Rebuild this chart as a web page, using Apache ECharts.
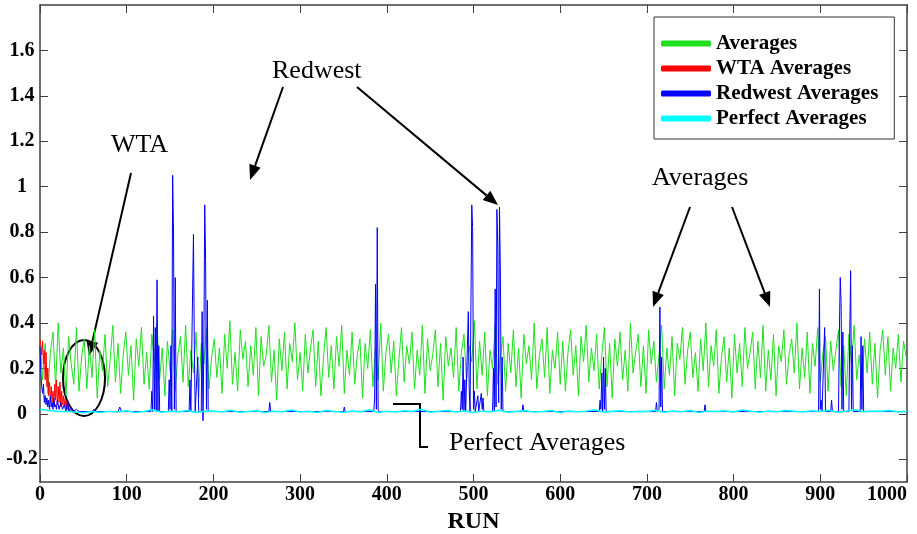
<!DOCTYPE html>
<html>
<head>
<meta charset="utf-8">
<script src="https://cdn.jsdelivr.net/npm/echarts@6/dist/echarts.min.js"></script>
<style>
  html, body { margin: 0; padding: 0; background: #fff; }
  #chart { width: 917px; height: 534px; }
</style>
</head>
<body>
<div id="chart"></div>
<script>
// Averages (green), sampled every 3 runs
const averagesStep = 3
const averages = [
  0.33, 0.15, 0.31, 0.09, 0.27, 0.36, 0.12, 0.40, 0.18, 0.29,
  0.08, 0.34, 0.22, 0.13, 0.38, 0.10, 0.25, 0.33, 0.11, 0.30,
  0.16, 0.37, 0.07, 0.28, 0.19, 0.35, 0.12, 0.24, 0.39, 0.14,
  0.31, 0.09, 0.26, 0.36, 0.17, 0.30, 0.06, 0.33, 0.21, 0.38,
  0.13, 0.27, 0.11, 0.35, 0.23, 0.40, 0.15, 0.29, 0.08, 0.32,
  0.19, 0.37, 0.10, 0.26, 0.34, 0.14, 0.39, 0.12, 0.28, 0.18,
  0.36, 0.07, 0.31, 0.22, 0.38, 0.11, 0.25, 0.33, 0.16, 0.29,
  0.09, 0.35, 0.20, 0.41, 0.13, 0.27, 0.10, 0.37, 0.24, 0.32,
  0.12, 0.30, 0.17, 0.38, 0.08, 0.34, 0.21, 0.26, 0.39, 0.14,
  0.28, 0.06, 0.33, 0.19, 0.36, 0.11, 0.31, 0.23, 0.40, 0.15,
  0.27, 0.10, 0.35, 0.18, 0.29, 0.37, 0.12, 0.32, 0.08, 0.25,
  0.38, 0.16, 0.30, 0.11, 0.34, 0.21, 0.39, 0.09, 0.28, 0.17,
  0.36, 0.13, 0.26, 0.33, 0.07, 0.31, 0.20, 0.37, 0.12, 0.29,
  0.15, 0.40, 0.10, 0.27, 0.35, 0.18, 0.32, 0.08, 0.24, 0.38,
  0.14, 0.30, 0.22, 0.36, 0.11, 0.28, 0.17, 0.39, 0.09, 0.33,
  0.19, 0.26, 0.37, 0.12, 0.31, 0.06, 0.34, 0.21, 0.29, 0.16,
  0.38, 0.10, 0.27, 0.35, 0.14, 0.30, 0.23, 0.41, 0.11, 0.32,
  0.17, 0.36, 0.08, 0.28, 0.20, 0.39, 0.13, 0.25, 0.34, 0.10,
  0.31, 0.18, 0.37, 0.12, 0.29, 0.07, 0.35, 0.22, 0.30, 0.15,
  0.40, 0.11, 0.26, 0.33, 0.16, 0.38, 0.09, 0.28, 0.20, 0.36,
  0.13, 0.32, 0.10, 0.27, 0.37, 0.17, 0.30, 0.08, 0.34, 0.23,
  0.39, 0.14, 0.29, 0.19, 0.35, 0.11, 0.26, 0.38, 0.12, 0.31,
  0.07, 0.33, 0.21, 0.36, 0.15, 0.28, 0.10, 0.40, 0.18, 0.27,
  0.35, 0.12, 0.30, 0.09, 0.37, 0.22, 0.32, 0.14, 0.26, 0.39,
  0.11, 0.29, 0.17, 0.34, 0.08, 0.31, 0.24, 0.38, 0.13, 0.28,
  0.36, 0.16, 0.27, 0.10, 0.33, 0.19, 0.40, 0.12, 0.30, 0.21,
  0.37, 0.09, 0.25, 0.34, 0.14, 0.29, 0.07, 0.35, 0.18, 0.31,
  0.12, 0.38, 0.20, 0.27, 0.36, 0.11, 0.32, 0.16, 0.39, 0.10,
  0.28, 0.15, 0.35, 0.08, 0.30, 0.23, 0.37, 0.13, 0.26, 0.33,
  0.18, 0.40, 0.11, 0.29, 0.16, 0.36, 0.09, 0.31, 0.21, 0.38,
  0.14, 0.27, 0.34, 0.10, 0.32, 0.19, 0.28, 0.37, 0.12, 0.30,
  0.08, 0.35, 0.22, 0.39, 0.15, 0.26, 0.11, 0.33, 0.18, 0.36,
  0.13, 0.31, 0.07, 0.28, 0.37, 0.17, 0.34, 0.10, 0.29, 0.20,
  0.35, 0.14, 0.32, 0.25
]

// WTA Averages (red), [run, value]
const wta = [
  [0, 0.33], [1, 0.30], [2, 0.26], [3, 0.32], [4, 0.22], [5, 0.28], [6, 0.15], [7, 0.27],
  [8, 0.12], [9, 0.20], [10, 0.08], [11, 0.14], [12, 0.06], [13, 0.12], [14, 0.05], [15, 0.10],
  [16, 0.04], [17, 0.13], [18, 0.06], [19, 0.15], [20, 0.04], [21, 0.12], [22, 0.05], [23, 0.14],
  [24, 0.03], [25, 0.10], [26, 0.04], [27, 0.08], [28, 0.03], [29, 0.07], [30, 0.02], [31, 0.06],
  [32, 0.02], [33, 0.04], [34, 0.01], [36, 0.02], [38, 0.005], [40, 0.005]
]

// Redwest Averages (blue), [run, value]
const redwest = [
  [0, 0.30], [1, 0.18], [2, 0.12], [3, 0.09], [4, 0.13], [5, 0.05], [6, 0.08], [7, 0.04],
  [8, 0.07], [9, 0.03], [10, 0.06], [11, 0.02], [12, 0.08], [13, 0.03], [14, 0.05], [15, 0.02],
  [16, 0.07], [17, 0.03], [18, 0.04], [19, 0.02], [20, 0.06], [22, 0.02], [24, 0.05], [26, 0.02],
  [28, 0.04], [30, 0.01], [32, 0.06], [33, 0.01], [36, 0.03], [38, 0.01], [42, 0.02], [45, 0.01],
  [60, 0.01], [62, 0.02], [64, 0.01], [90, 0.01], [92, 0.03], [94, 0.01], [128, 0.01],
  [129, 0.10], [130, 0.01], [131, 0.43], [132, 0.02], [133, 0.38], [134, 0.01], [135, 0.59],
  [136, 0.01], [137, 0.30], [138, 0.01],
  [148, 0.01], [149, 0.15], [150, 0.02], [151, 0.30], [152, 0.01], [153, 1.05], [154, 0.80],
  [155, 0.02], [156, 0.60], [157, 0.01], [159, 0.01],
  [172, 0.01], [173, 0.15], [174, 0.01], [176, 0.01], [177, 0.79], [178, 0.30], [179, 0.01],
  [181, 0.01], [182, 0.25], [183, 0.01],
  [186, 0.01], [187, 0.45], [188, -0.03], [189, 0.30], [190, 0.92], [191, 0.68], [192, 0.02],
  [193, 0.50], [194, 0.01],
  [264, 0.01], [265, 0.05], [266, 0.01], [350, 0.01], [351, 0.03], [352, 0.01],
  [385, 0.01], [386, 0.07], [387, 0.57], [388, 0.02], [389, 0.82], [390, 0.02], [391, 0.01],
  [485, 0.01], [486, 0.10], [487, 0.02], [488, 0.25], [489, 0.01], [490, 0.15], [491, 0.01],
  [493, 0.01], [494, 0.45], [495, 0.12], [496, 0.01], [497, 0.01], [498, 0.92], [499, 0.82],
  [500, 0.02], [501, 0.10], [502, 0.01], [504, 0.01], [505, 0.08], [506, 0.01], [508, 0.01],
  [509, 0.09], [510, 0.02], [511, 0.07], [512, 0.01],
  [522, 0.01], [523, 0.20], [524, 0.01], [525, 0.55], [526, 0.03], [527, 0.90], [528, 0.74],
  [529, 0.05], [530, 0.91], [531, 0.62], [532, 0.02], [533, 0.25], [534, 0.01],
  [556, 0.01], [557, 0.04], [558, 0.01],
  [645, 0.01], [646, 0.06], [647, 0.02], [648, 0.18], [649, 0.01], [650, 0.25], [651, 0.02],
  [652, 0.20], [653, 0.01],
  [710, 0.01], [711, 0.05], [712, 0.01], [714, 0.02], [715, 0.47], [716, 0.03], [717, 0.25],
  [718, 0.01], [766, 0.01], [767, 0.04], [768, 0.01],
  [898, 0.01], [899, 0.55], [900, 0.02], [901, 0.06], [902, 0.01], [904, 0.01], [905, 0.38],
  [906, 0.01], [912, 0.01], [913, 0.06], [914, 0.01],
  [921, 0.01], [922, 0.36], [923, 0.60], [924, 0.49], [925, 0.02], [926, 0.36], [927, 0.01],
  [933, 0.01], [934, 0.36], [935, 0.63], [936, 0.02], [937, 0.30], [938, 0.01],
  [946, 0.01], [947, 0.34], [948, 0.02], [949, 0.30], [950, 0.01], [1000, 0.01]
]

// Perfect Averages (cyan), sampled every 10 runs
const perfectStep = 10
const perfect = [
  0.020, 0.015, 0.010, 0.012, 0.008, 0.005, 0.010, 0.006, 0.012, 0.008,
  0.014, 0.006, 0.010, 0.018, 0.007, 0.012, 0.009, 0.015, 0.006, 0.011,
  0.013, 0.008, 0.016, 0.007, 0.010, 0.014, 0.006, 0.012, 0.009, 0.017,
  0.008, 0.011, 0.006, 0.015, 0.010, 0.007, 0.013, 0.009, 0.018, 0.006,
  0.012, 0.008, 0.014, 0.010, 0.020, 0.007, 0.011, 0.015, 0.008, 0.013,
  0.006, 0.012, 0.009, 0.016, 0.007, 0.011, 0.014, 0.008, 0.010, 0.015,
  0.006, 0.013, 0.009, 0.012, 0.018, 0.007, 0.011, 0.014, 0.008, 0.012,
  0.010, 0.016, 0.007, 0.013, 0.009, 0.015, 0.006, 0.012, 0.010, 0.014,
  0.008, 0.017, 0.011, 0.007, 0.013, 0.009, 0.015, 0.012, 0.008, 0.014,
  0.010, 0.016, 0.007, 0.012, 0.018, 0.009, 0.013, 0.011, 0.015, 0.008,
  0.012
]

const yTicks = [-0.2, 0, 0.2, 0.4, 0.6, 0.8, 1, 1.2, 1.4, 1.6]
const seriesNames = ['Averages', 'WTA Averages', 'Redwest Averages', 'Perfect Averages']
const seriesColors = ['#1ee01e', '#ff0000', '#0000ff', '#00ffff']

const serif = 'Liberation Serif'
const axisColor = '#404040'

// arrow annotation: shaft plus filled head
function arrow(x1, y1, x2, y2) {
  const ang = Math.atan2(y2 - y1, x2 - x1)
  const len = 15, half = 6
  const bx = x2 - len * Math.cos(ang), by = y2 - len * Math.sin(ang)
  const px = -Math.sin(ang) * half, py = Math.cos(ang) * half
  return [
    { type: 'line', shape: { x1: x1, y1: y1, x2: bx, y2: by }, style: { stroke: '#000', lineWidth: 2 } },
    { type: 'polygon', shape: { points: [[x2, y2], [bx + px, by + py], [bx - px, by - py]] }, style: { fill: '#000' } }
  ]
}

function label(text, x, y) {
  return { type: 'text', x: x, y: y, style: { text: text, font: '26px "' + serif + '"', fill: '#000', textVerticalAlign: 'middle' } }
}

const annotations = [].concat(
  label('Redwest', 272, 71),
  arrow(283, 87, 250, 180),
  arrow(357, 87, 498, 205),
  label('WTA', 111, 145),
  arrow(131, 173, 89, 356),
  { type: 'ellipse', shape: { cx: 84, cy: 378, rx: 21, ry: 38 }, style: { fill: 'none', stroke: '#000', lineWidth: 2 } },
  label('Averages', 652, 178),
  arrow(690, 207, 653, 307),
  arrow(732, 207, 770, 307),
  { type: 'polyline', shape: { points: [[393, 404], [420, 404], [420, 447], [428, 447]] }, style: { stroke: '#000', lineWidth: 2, fill: 'none' } },
  label('Perfect Averages', 449, 443)
)

const fmt = v => String(+(+v).toFixed(1))

const options = {
  animation: false,
  backgroundColor: '#fff',
  grid: { left: 40, right: 10, top: 5, bottom: 52, containLabel: false, outerBoundsMode: 'none' },
  legend: {
    orient: 'vertical',
    left: 654,
    top: 17,
    padding: [16, 16, 10, 7],
    itemGap: 4,
    itemWidth: 50,
    itemHeight: 6,
    icon: 'roundRect',
    borderColor: '#333',
    borderWidth: 1,
    backgroundColor: '#fff',
    data: seriesNames,
    textStyle: { fontFamily: serif, fontWeight: 'bold', fontSize: 21, lineHeight: 20, color: '#000' }
  },
  xAxis: [
    {
      type: 'value', min: 0, max: 1000, interval: 100,
      name: 'RUN', nameLocation: 'middle', nameGap: 27,
      nameTextStyle: { fontFamily: serif, fontWeight: 'bold', fontSize: 24, color: '#000' },
      axisLine: { onZero: false, lineStyle: { color: axisColor, width: 1.5 } },
      axisTick: { inside: true, length: 8, lineStyle: { color: axisColor } },
      axisLabel: { margin: 3, alignMaxLabel: 'right', formatter: v => String(v), fontFamily: serif, fontWeight: 'bold', fontSize: 20, color: '#000' },
      splitLine: { show: false }
    },
    {
      type: 'value', position: 'top', min: 0, max: 1000, interval: 100,
      axisLine: { onZero: false, lineStyle: { color: axisColor, width: 1.5 } },
      axisTick: { inside: true, length: 8, lineStyle: { color: axisColor } },
      axisLabel: { show: false },
      splitLine: { show: false }
    }
  ],
  yAxis: [
    {
      type: 'value', min: -0.3, max: 1.8,
      axisLine: { show: true, onZero: false, lineStyle: { color: axisColor, width: 1.5 } },
      axisTick: { show: true, inside: true, length: 8, customValues: yTicks, lineStyle: { color: axisColor } },
      axisLabel: { customValues: yTicks, formatter: fmt, align: 'center', margin: 18, fontFamily: serif, fontWeight: 'bold', fontSize: 20, color: '#000' },
      splitLine: { show: false }
    },
    {
      type: 'value', position: 'right', min: -0.3, max: 1.8,
      axisLine: { show: true, onZero: false, lineStyle: { color: axisColor, width: 1.5 } },
      axisTick: { show: true, inside: true, length: 8, customValues: yTicks, lineStyle: { color: axisColor } },
      axisLabel: { show: false },
      splitLine: { show: false }
    }
  ],
  series: [
    {
      name: seriesNames[0], type: 'line', showSymbol: false, color: seriesColors[0],
      lineStyle: { width: 1, color: seriesColors[0] },
      data: averages.map((v, i) => [i * averagesStep, v])
    },
    {
      name: seriesNames[1], type: 'line', showSymbol: false, color: seriesColors[1],
      lineStyle: { width: 1, color: seriesColors[1] },
      data: wta
    },
    {
      name: seriesNames[2], type: 'line', showSymbol: false, color: seriesColors[2],
      lineStyle: { width: 1, color: seriesColors[2] },
      data: redwest
    },
    {
      name: seriesNames[3], type: 'line', showSymbol: false, color: seriesColors[3],
      lineStyle: { width: 1.5, color: seriesColors[3] },
      data: perfect.map((v, i) => [i * perfectStep, v])
    }
  ],
  graphic: annotations
}

const chart = echarts.init(document.getElementById('chart'))
chart.setOption(options)
window.addEventListener('resize', function () {
  chart && chart.resize()
})
</script>
</body>
</html>
